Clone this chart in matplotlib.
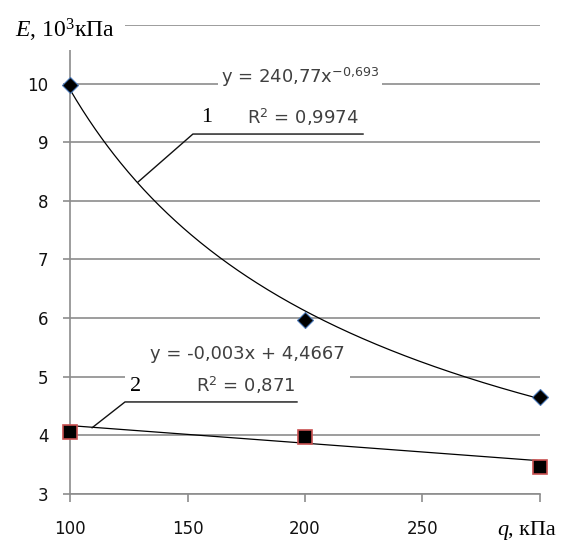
import numpy as np
import matplotlib
matplotlib.use("Agg")
import matplotlib.pyplot as plt
from matplotlib.patches import Rectangle

# ---- data ----
q_values = [100, 200, 300]
e_series1 = [9.98, 5.96, 4.66]
e_series2 = [4.06, 3.97, 3.46]
power_coef = [240.77, -0.693]      # y = a * x^b
linear_coef = [-0.003, 4.4667]     # y = k*x + c
x_ticks = [100, 150, 200, 250, 300]
x_tick_labels = ["100", "150", "200", "250", ""]
y_ticks = [3, 4, 5, 6, 7, 8, 9, 10, 11]
y_tick_labels = ["3", "4", "5", "6", "7", "8", "9", "10", ""]

plt.rcParams['mathtext.fontset'] = 'custom'
plt.rcParams['mathtext.rm'] = 'Liberation Serif'
plt.rcParams['mathtext.it'] = 'Liberation Serif:italic'
plt.rcParams['font.family'] = ['DejaVu Sans']

fig = plt.figure(figsize=(5.71, 5.4), dpi=100)
ax = fig.add_axes([0.1226, 0.0852, 0.8231, 0.8685])

ax.set_xlim(100, 300)
ax.set_ylim(3, 11)

grid_c = '#8c8c8c'
ax.set_yticks(y_ticks)
ax.set_yticklabels(y_tick_labels)
ax.set_xticks(x_ticks)
ax.set_xticklabels(x_tick_labels)
ax.grid(axis='y', color=grid_c, lw=1.2, zorder=0)
ax.set_axisbelow(True)
for s in ['top', 'right']:
    ax.spines[s].set_visible(False)
for s in ['left', 'bottom']:
    ax.spines[s].set_color(grid_c)
    ax.spines[s].set_linewidth(1.2)
ax.tick_params(axis='y', length=5, width=1.2, color=grid_c, pad=10.5,
               labelsize=12, labelcolor='#111111')
ax.tick_params(axis='x', length=5.5, width=1.2, color=grid_c, pad=13,
               labelsize=12, labelcolor='#111111')

# trendlines
xs = np.linspace(q_values[0], q_values[-1], 300)
ax.plot(xs, power_coef[0] * xs ** power_coef[1], color='black', lw=0.9, zorder=3)
ax.plot(xs, linear_coef[0] * xs + linear_coef[1], color='black', lw=0.9, zorder=3)

# markers
ax.plot(q_values, e_series1, ls='none', marker='D', ms=8, mfc='black',
        mec='#4a78b8', mew=0.8, zorder=4, clip_on=False)
ax.plot(q_values, e_series2, ls='none', marker='s', ms=10, mfc='black',
        mec='#c85050', mew=1.2, zorder=4, clip_on=False)

# white boxes behind equations
ax.add_patch(Rectangle((163, 9.30), 69.8, 1.08, facecolor='white',
                       edgecolor='none', zorder=1))
ax.add_patch(Rectangle((123.4, 4.69), 95.7, 0.94, facecolor='white',
                       edgecolor='none', zorder=1))

eq_c = '#404040'
ax.text(197.7, 10.11, r'y = 240,77x$^{\mathdefault{-0{,}693}}$', fontsize=13,
        color=eq_c, ha='center', va='center', zorder=5)
ax.text(199.1, 9.43, r'R$^{\mathdefault{2}}$ = 0,9974', fontsize=13,
        color=eq_c, ha='center', va='center', zorder=5)
ax.text(175.3, 5.39, 'y = -0,003x + 4,4667', fontsize=13,
        color=eq_c, ha='center', va='center', zorder=5)
ax.text(174.9, 4.86, r'R$^{\mathdefault{2}}$ = 0,871', fontsize=13,
        color=eq_c, ha='center', va='center', zorder=5)

# leader lines and curve numbers
ax.plot([128.9, 152.3, 224.7], [8.32, 9.14, 9.14], color='#111111', lw=1.0, zorder=5)
ax.plot([109.4, 123.4, 196.6], [4.13, 4.57, 4.57], color='#111111', lw=1.0, zorder=5)
ax.text(158.3, 9.43, '1', fontsize=16, family='Liberation Serif',
        ha='center', va='center', zorder=5)
ax.text(127.7, 4.84, '2', fontsize=16, family='Liberation Serif',
        ha='center', va='center', zorder=5)

# axis titles
fig.patches.append(Rectangle((0, 1 - 50 / 540), 125 / 571, 50 / 540,
                             transform=fig.transFigure, facecolor='white',
                             edgecolor='none', zorder=10))
fig.text(65 / 571, 1 - 30 / 540, r'$\mathit{E}$, 10$^{\mathdefault{3}}$кПа', fontsize=17,
         family='Liberation Serif', ha='center', va='center', zorder=11)
ax.text(0.932, -0.077, 'q', fontsize=16, family='Liberation Serif', style='italic',
        ha='right', va='center', transform=ax.transAxes, clip_on=False)
ax.text(0.932, -0.077, ', кПа', fontsize=16, family='Liberation Serif',
        ha='left', va='center', transform=ax.transAxes, clip_on=False)

fig.savefig('out.png', dpi=100)
